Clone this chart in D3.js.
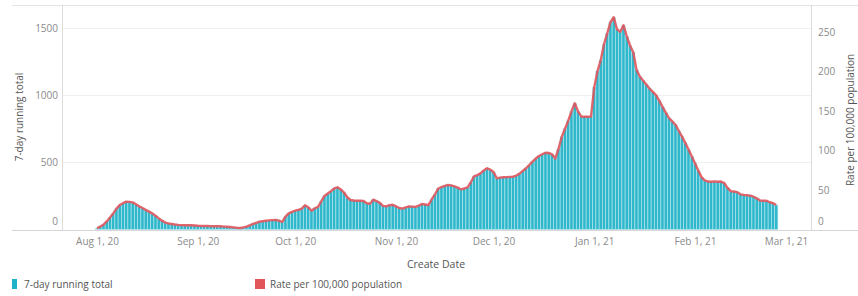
<!DOCTYPE html>
<html>
<head>
<meta charset="utf-8">
<script src="https://cdn.jsdelivr.net/npm/d3@7"></script>
<style>
  body { margin: 0; background: #fff; }
  svg { display: block; font-family: "Open Sans", sans-serif; }
</style>
</head>
<body>
<div id="chart"></div>
<script>
// daily values, Aug 1 2020 .. Feb 26 2021
var firstDay = Date.UTC(2020, 7, 1);

var runningTotal = [
    9, 22, 36, 60, 90, 120, 155, 182, 196, 207,
    205, 202, 188, 172, 160, 146, 133, 120, 102, 83,
    66, 52, 45, 41, 37, 34, 33, 32, 31, 31,
    30, 28, 27, 26, 27, 25, 24, 24, 24, 22,
    20, 18, 16, 13, 11, 15, 21, 31, 41, 50,
    58, 62, 65, 68, 70, 71, 66, 56, 95, 120,
    132, 140, 146, 155, 180, 165, 140, 158, 168, 210,
    250, 268, 285, 305, 314, 298, 275, 240, 220, 216,
    214, 214, 212, 195, 192, 222, 212, 198, 176, 172,
    182, 184, 172, 160, 155, 165, 172, 170, 168, 178,
    190, 186, 182, 225, 262, 305, 315, 325, 331, 328,
    322, 312, 298, 305, 314, 350, 395, 405, 418, 440,
    456, 445, 428, 382, 386, 389, 390, 392, 393, 402,
    416, 435, 456, 480, 505, 528, 547, 560, 572, 570,
    560, 528, 600, 690, 750, 810, 880, 940, 880, 842,
    840, 840, 842, 1060, 1180, 1262, 1380, 1460, 1545, 1580,
    1490, 1473, 1520, 1440, 1370, 1320, 1190, 1140, 1110, 1080,
    1050, 1025, 1001, 960, 914, 870, 830, 805, 780, 735,
    692, 645, 595, 545, 493, 440, 390, 365, 357, 356,
    358, 355, 357, 346, 310, 285, 283, 278, 262, 258,
    255, 252, 244, 232, 216, 214, 214, 203, 196, 182
];

var ratePer100k = [
    1.5, 3.7, 6.1, 10.2, 15.3, 20.4, 26.4, 30.9, 33.3, 35.2,
    34.9, 34.3, 32.0, 29.2, 27.2, 24.8, 22.6, 20.4, 17.3, 14.1,
    11.2, 8.8, 7.7, 7.0, 6.3, 5.8, 5.6, 5.4, 5.3, 5.3,
    5.1, 4.8, 4.6, 4.4, 4.6, 4.3, 4.1, 4.1, 4.1, 3.7,
    3.4, 3.1, 2.7, 2.2, 1.9, 2.6, 3.6, 5.3, 7.0, 8.5,
    9.9, 10.5, 11.1, 11.6, 11.9, 12.1, 11.2, 9.5, 16.2, 20.4,
    22.4, 23.8, 24.8, 26.4, 30.6, 28.1, 23.8, 26.9, 28.6, 35.7,
    42.5, 45.6, 48.5, 51.9, 53.4, 50.7, 46.8, 40.8, 37.4, 36.7,
    36.4, 36.4, 36.0, 33.2, 32.6, 37.7, 36.0, 33.7, 29.9, 29.2,
    30.9, 31.3, 29.2, 27.2, 26.4, 28.1, 29.2, 28.9, 28.6, 30.3,
    32.3, 31.6, 30.9, 38.3, 44.5, 51.9, 53.6, 55.3, 56.3, 55.8,
    54.7, 53.0, 50.7, 51.9, 53.4, 59.5, 67.2, 68.9, 71.1, 74.8,
    77.5, 75.7, 72.8, 64.9, 65.6, 66.1, 66.3, 66.6, 66.8, 68.3,
    70.7, 74.0, 77.5, 81.6, 85.9, 89.8, 93.0, 95.2, 97.2, 96.9,
    95.2, 89.8, 102.0, 117.3, 127.5, 137.7, 149.6, 159.8, 149.6, 143.1,
    142.8, 142.8, 143.1, 180.2, 200.6, 214.5, 234.6, 248.2, 262.7, 268.6,
    253.3, 250.4, 258.4, 244.8, 232.9, 224.4, 202.3, 193.8, 188.7, 183.6,
    178.5, 174.3, 170.2, 163.2, 155.4, 147.9, 141.1, 136.9, 132.6, 125.0,
    117.6, 109.7, 101.2, 92.7, 83.8, 74.8, 66.3, 62.1, 60.7, 60.5,
    60.9, 60.4, 60.7, 58.8, 52.7, 48.5, 48.1, 47.3, 44.5, 43.9,
    43.4, 42.8, 41.5, 39.4, 36.7, 36.4, 36.4, 34.5, 33.3, 30.9
];

var leftTicks = [0, 500, 1000, 1500];
var rightTicks = [0, 50, 100, 150, 200, 250];
var monthTicks = d3.utcMonth.range(new Date(Date.UTC(2020, 7, 1)), new Date(Date.UTC(2021, 2, 2)));
var seriesNames = ["7-day running total", "Rate per 100,000 population"];

var dates = runningTotal.map(function (v, i) { return new Date(firstDay + i * 864e5); });

var width = 858, height = 296;
var plotL = 62, plotR = 811, plotT = 5, plotB = 230;
var cyan = "#2fb8cb", red = "#e0555d";
var labelColor = "#8a8a8a", titleColor = "#555";

var svg = d3.select("#chart").append("svg")
    .attr("width", width)
    .attr("height", height);

var x = d3.scaleUtc()
    .domain([new Date(Date.UTC(2020, 6, 21, 5, 30)), new Date(Date.UTC(2021, 2, 8, 16, 35))])
    .range([plotL, plotR]);

var yL = d3.scaleLinear().domain([0, 1664]).range([229.5, 6]);
var yR = d3.scaleLinear().domain([0, 282.9]).range([229.5, 6]);

// gridlines
svg.append("g").selectAll("line")
    .data(leftTicks.filter(function (d) { return d > 0; }))
    .enter().append("line")
    .attr("x1", plotL).attr("x2", plotR)
    .attr("y1", function (d) { return Math.round(yL(d)) + 0.5; })
    .attr("y2", function (d) { return Math.round(yL(d)) + 0.5; })
    .attr("stroke", "#efefef");

// bars
var bw = x(dates[1]) - x(dates[0]);
svg.append("g").selectAll("rect")
    .data(runningTotal)
    .enter().append("rect")
    .attr("x", function (d, i) { return x(dates[i]) - bw / 2; })
    .attr("y", function (d) { return yL(d); })
    .attr("width", bw)
    .attr("height", function (d) { return yL(0) - yL(d); })
    .attr("fill", cyan)
    .attr("stroke", "#b9e6ee")
    .attr("stroke-width", 0.6);

// rate line
var line = d3.line()
    .x(function (d, i) { return x(dates[i]); })
    .y(function (d) { return yR(d); });

svg.append("path")
    .datum(ratePer100k)
    .attr("d", line)
    .attr("fill", "none")
    .attr("stroke", red)
    .attr("stroke-width", 2.4)
    .attr("stroke-opacity", 0.9)
    .attr("stroke-linejoin", "round");

// frame lines
svg.append("line").attr("x1", 12).attr("x2", width).attr("y1", plotT + 0.5).attr("y2", plotT + 0.5).attr("stroke", "#e4e4e4");
svg.append("line").attr("x1", 12).attr("x2", width).attr("y1", plotB + 0.5).attr("y2", plotB + 0.5).attr("stroke", "#d6d6d6");
svg.append("line").attr("x1", plotL + 0.5).attr("x2", plotL + 0.5).attr("y1", plotT).attr("y2", plotB).attr("stroke", "#dcdcdc");
svg.append("line").attr("x1", plotR + 0.5).attr("x2", plotR + 0.5).attr("y1", plotT).attr("y2", plotB).attr("stroke", "#dcdcdc");

// axes
var axisL = svg.append("g")
    .attr("transform", "translate(" + (plotL - 4) + ",0)")
    .call(d3.axisLeft(yL).tickValues(leftTicks).tickFormat(d3.format("d")).tickSize(0).tickPadding(0));

var axisR = svg.append("g")
    .attr("transform", "translate(" + (plotR + 7) + ",0)")
    .call(d3.axisRight(yR).tickValues(rightTicks).tickFormat(d3.format("d")).tickSize(0).tickPadding(0));

var axisB = svg.append("g")
    .attr("transform", "translate(0," + (plotB + 8) + ")")
    .call(d3.axisBottom(x).tickValues(monthTicks).tickFormat(d3.utcFormat("%b %-d, %y")).tickSize(0).tickPadding(0));

[axisL, axisR, axisB].forEach(function (a) {
    a.select(".domain").remove();
    a.selectAll("text")
        .attr("fill", labelColor)
        .style("font-size", "10px")
        .style("font-family", "\"Open Sans\", sans-serif");
});

// zero labels sit above the baseline
axisL.selectAll(".tick").filter(function (d) { return d === 0; }).select("text").attr("dy", "-0.5em");
axisR.selectAll(".tick").filter(function (d) { return d === 0; }).select("text").attr("dy", "-0.5em");

// axis titles
svg.append("text")
    .attr("transform", "translate(23,117) rotate(-90)")
    .attr("text-anchor", "middle")
    .attr("fill", titleColor)
    .style("font-size", "10px")
    .text("7-day running total");

svg.append("text")
    .attr("transform", "translate(854,120) rotate(-90)")
    .attr("text-anchor", "middle")
    .attr("fill", titleColor)
    .style("font-size", "10px")
    .text("Rate per 100,000 population");

svg.append("text")
    .attr("x", 436).attr("y", 268)
    .attr("text-anchor", "middle")
    .attr("fill", titleColor)
    .style("font-size", "10.5px")
    .text("Create Date");

// legend
svg.append("rect").attr("x", 12).attr("y", 279).attr("width", 5).attr("height", 10).attr("fill", "#1fb3c8");
svg.append("text").attr("x", 24).attr("y", 288).attr("fill", titleColor).style("font-size", "10px").text(seriesNames[0]);
svg.append("rect").attr("x", 255).attr("y", 279).attr("width", 10).attr("height", 10).attr("fill", "#e15759");
svg.append("text").attr("x", 270).attr("y", 288).attr("fill", titleColor).style("font-size", "10px").text(seriesNames[1]);
</script>
</body>
</html>
